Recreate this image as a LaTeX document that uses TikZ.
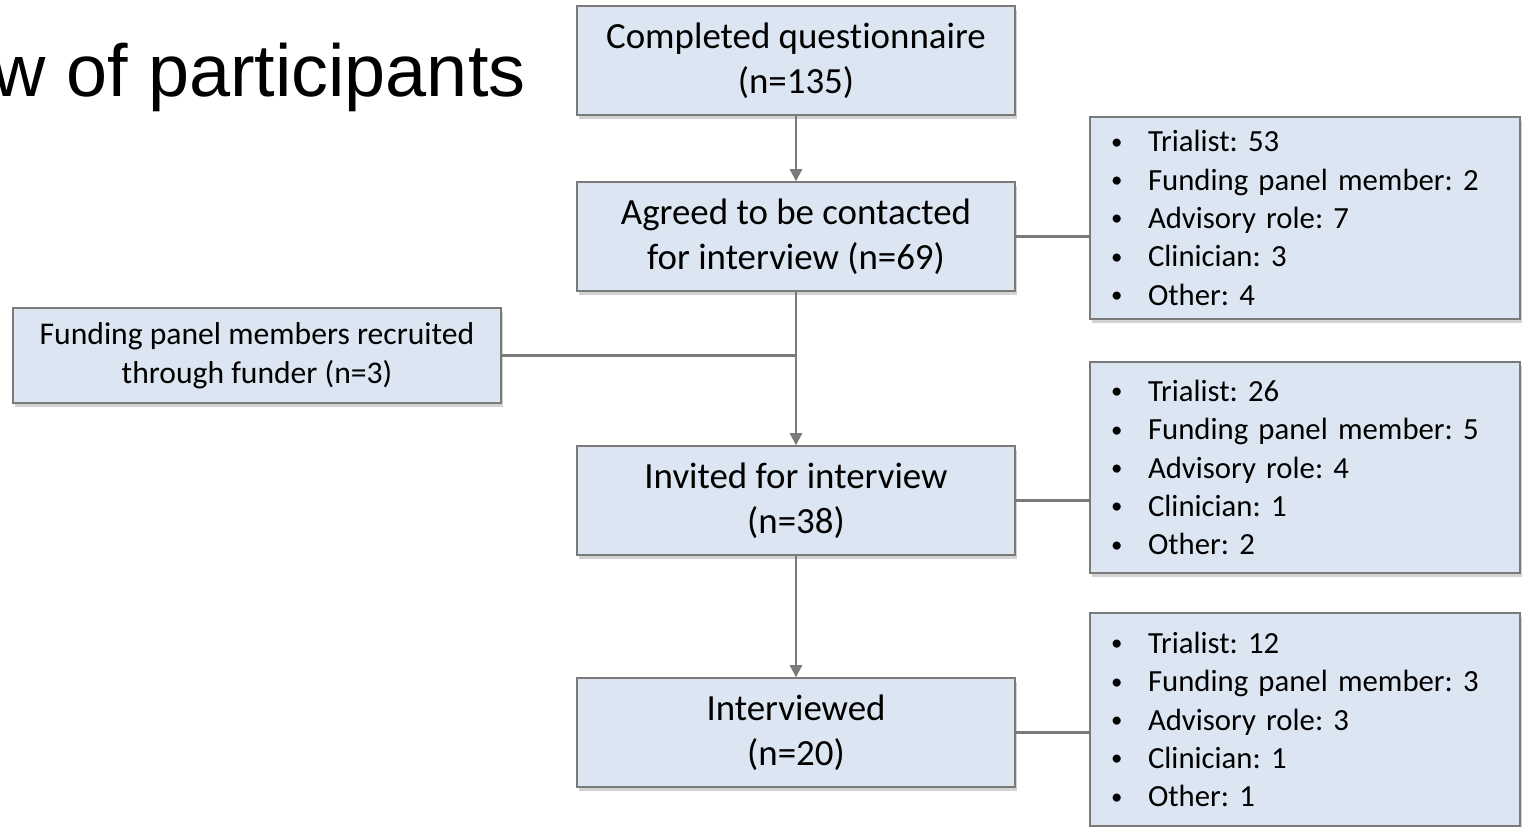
\documentclass[tikz,border=0pt]{standalone}
\usepackage{fontspec}
\setmainfont{Carlito}[Ligatures=NoCommon]
\newfontfamily\headfont{Liberation Sans}
\definecolor{fpInk}{HTML}{000000}
\definecolor{fpLine}{HTML}{7A7A7A}
\definecolor{fpFill}{HTML}{DCE6F2}
\usetikzlibrary{arrows.meta,shadows}
\newcommand{\roleline}[1]{\makebox[0.66cm][l]{\hspace{-0.08cm}\raisebox{1.5pt}{\fontsize{13}{13}\selectfont\textbullet}}#1}
\frenchspacing

\begin{document}
\begin{tikzpicture}[x=0.02cm,y=-0.02cm,
                    every node/.style={text=fpInk,inner sep=0pt},
                    stage/.style={draw=fpLine,line width=0.8pt,fill=fpFill,align=center,
                                  drop shadow={shadow xshift=1.2pt,shadow yshift=-2.4pt,opacity=0.35},
                                  minimum width=8.76cm,minimum height=2.18cm,
                                  font=\fontsize{21}{25.5}\selectfont},
                    roles/.style={stage,align=left,text width=7.6cm,inner xsep=0.5cm,
                                  minimum width=8.6cm,font=\fontsize{17.5}{21.8}\selectfont},
                    flow/.style={draw=fpLine,line width=1.2pt},
                    link/.style={flow,-{Triangle[width=7pt,length=7pt]}}]
  \useasboundingbox (0,0) rectangle (1522,827);
  \node[anchor=base west,font=\headfont\fontsize{42}{50}\selectfont] (title) at (-8,97) {w of participants};
  % main flow
  \node[stage] (completed) at (796,60.5) {Completed questionnaire\\(n=135)};
  \node[stage] (agreed) at (796,236.5) {Agreed to be contacted\\for interview (n=69)};
  \node[stage] (invited) at (796,500.5) {Invited for interview\\(n=38)};
  \node[stage] (interviewed) at (796,732.5) {Interviewed\\(n=20)};
  \node[stage,minimum width=9.76cm,minimum height=1.9cm,
        font=\fontsize{18}{22}\selectfont] (funder) at (257,355.5)
        {Funding panel members recruited\\through funder (n=3)};
  % breakdown by role
  \node[roles,minimum height=4.04cm] (agreedroles) at (1305,218)
        {\roleline{Trialist: 53}\\\roleline{Funding panel member: 2}\\\roleline{Advisory role: 7}\\\roleline{Clinician: 3}\\\roleline{Other: 4}};
  \node[roles,minimum height=4.22cm] (invitedroles) at (1305,467.5)
        {\roleline{Trialist: 26}\\\roleline{Funding panel member: 5}\\\roleline{Advisory role: 4}\\\roleline{Clinician: 1}\\\roleline{Other: 2}};
  \node[roles,minimum height=4.26cm] (interviewedroles) at (1305,719.5)
        {\roleline{Trialist: 12}\\\roleline{Funding panel member: 3}\\\roleline{Advisory role: 3}\\\roleline{Clinician: 1}\\\roleline{Other: 1}};
  \coordinate (join) at (agreed.south |- funder.east);
  \draw[link] (completed) -- (agreed);
  \draw[link] (agreed) -- (invited);
  \draw[flow] (funder) -- (join);
  \draw[link] (invited) -- (interviewed);
  \draw[flow] (agreed) -- (agreed -| agreedroles.west);
  \draw[flow] (invited) -- (invited -| invitedroles.west);
  \draw[flow] (interviewed) -- (interviewed -| interviewedroles.west);
\end{tikzpicture}
\end{document}
